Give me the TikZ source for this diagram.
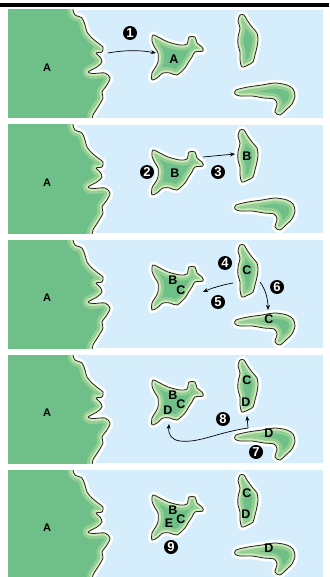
\documentclass[tikz,border=0pt]{standalone}
\usepackage{fontspec}
\setmainfont{Liberation Sans}
\usetikzlibrary{arrows.meta}

\definecolor{sea}{RGB}{214,238,251}
\definecolor{land}{RGB}{110,192,136}
\definecolor{shore}{RGB}{148,206,148}
\definecolor{beach}{RGB}{204,233,184}

% outlines, in px with y running down
\newcommand{\mainland}{(-2,-10) -- (73,-10) -- plot[smooth, tension=.5] coordinates {(73,-4) (73,0) (75,5) (82,8) (85,15) (87,22) (92,28) (98,33) (103,37) (102,42) (96,43) (100,47) (102,52) (97,57) (88,62) (93,63.5) (105,63) (110,68) (107,75) (102,82) (103,88) (98,97) (93,105) (92,112) (92,120)} -- (-2,120) -- cycle}
\newcommand{\isleone}{plot[smooth cycle, tension=.5] coordinates {(153,25) (160,28) (168,32) (180,35) (187,34) (189,27) (195,27) (197,33) (202,37) (203,41) (195,42) (192,47) (188,53) (185,58) (177,65) (170,63) (163,63) (157,68) (152,70) (152,63) (155,58) (158,52) (158,43) (155,38) (152,31)}}
\newcommand{\isletwo}{plot[smooth cycle, tension=.5] coordinates {(240,5) (244,5) (247,10) (252,17) (257,23) (258,30) (257,37) (255,45) (253,52) (248,55) (242,57) (240,50) (240,42) (238,35) (238,27) (240,18) (238,11)}}
\newcommand{\islethree}{plot[smooth cycle, tension=.5] coordinates {(236,80) (248,77) (262,75) (275,73) (287,75) (293,79) (295,86) (292,94) (287,99) (280,105) (275,102) (277,94) (274,89) (264,88) (252,86) (240,86) (235,84)}}

\newcommand{\landmass}[1]{%
  \draw[halo] #1;
  \fill[land] #1;
  \begin{scope}
    \clip #1;
    \draw[shore, line width=11pt, line join=round] #1;
    \draw[beach, line width=5pt, line join=round] #1;
  \end{scope}
  \draw[coastline] #1;}

\begin{document}
\begin{tikzpicture}[x=1pt, y=-1pt,
    halo/.style={draw=white, line width=6.5pt, line join=round},
    coastline/.style={draw=black!85, line width=.8pt, line join=round},
    badge/.style={circle, fill=black, text=white, inner sep=0pt, minimum size=14pt,
      font=\bfseries\fontsize{13}{13}\selectfont},
    isle/.style={inner sep=0pt, font=\bfseries\fontsize{12.5}{12.5}\selectfont},
    landlabel/.style={inner sep=0pt, font=\bfseries\fontsize{11}{11}\selectfont},
    link/.style={-{Stealth[length=5pt, width=4pt]}, line width=.7pt}]
  \useasboundingbox (0,0) rectangle (329,577);
  \fill[white] (0,0) rectangle (329,577);
  \fill (0,3.3) rectangle (329,6.6);

  % the same map five times
  \foreach \top [count=\i] in {10,125,240,355,470}{
    \begin{scope}[shift={(0,\top)}]
      \fill[sea] (8,0) rectangle (323,108);
      \begin{scope}
        \clip (8,0) rectangle (323,108);
        \landmass{\mainland}
        \landmass{\isleone}
        \landmass{\isletwo}
        \landmass{\islethree}
      \end{scope}
      \node[landlabel] (main\i) at (47,58) {A};
    \end{scope}
  }

  % step 1
  \begin{scope}[shift={(0,10)}]
    \node[badge] (n1) at (130,23) {1};
    \node[isle] (a1) at (174,49) {A};
    \coordinate (s1) at (108,43);
    \coordinate (e1) at (156,43);
    \draw[link] (s1) .. controls (125,40) and (140,40) .. (e1);
  \end{scope}

  % steps 2 and 3
  \begin{scope}[shift={(0,125)}]
    \node[isle] (b1) at (175,48) {B};
    \node[isle] (b2) at (247,31) {B};
    \node[badge] (n2) at (147,47) {2};
    \node[badge] (n3) at (218,47) {3};
    \coordinate (s3) at (203,32);
    \coordinate (e3) at (235,29);
    \draw[link] (s3) -- (e3);
  \end{scope}

  % steps 4 to 6
  \begin{scope}[shift={(0,240)}]
    \node[isle] (b3) at (173,40) {B};
    \node[isle] (c1) at (181,50) {C};
    \node[isle] (c2) at (247,30) {C};
    \node[isle] (c3) at (269,79) {C};
    \node[badge] (n4) at (225,23) {4};
    \node[badge] (n5) at (218,62) {5};
    \node[badge] (n6) at (277,47) {6};
    \coordinate (s5) at (233,43);
    \coordinate (e5) at (203,52);
    \coordinate (s6) at (260,42);
    \coordinate (e6) at (268,70);
    \draw[link] (s5) .. controls (222,45) and (212,48) .. (e5);
    \draw[link] (s6) .. controls (266,50) and (268,60) .. (e6);
  \end{scope}

  % steps 7 and 8
  \begin{scope}[shift={(0,355)}]
    \node[isle] (b4) at (173,40) {B};
    \node[isle] (c4) at (181,49) {C};
    \node[isle] (d1) at (168,55) {D};
    \node[isle] (c5) at (247,25) {C};
    \node[isle] (d2) at (246,47) {D};
    \node[isle] (d3) at (269,78) {D};
    \node[badge] (n8) at (223,64) {8};
    \node[badge] (n7) at (256,97) {7};
    \coordinate (s7) at (248,73);
    \coordinate (e8) at (247,61);
    \coordinate (e7) at (169,69);
    \draw[link] (s7) -- (e8);
    \draw[link] (s7) .. controls (215,78) and (200,88) .. (180,86)
      .. controls (172,85) and (168,80) .. (e7);
  \end{scope}

  % step 9
  \begin{scope}[shift={(0,470)}]
    \node[isle] (b5) at (173,40) {B};
    \node[isle] (c6) at (181,49) {C};
    \node[isle] (e9) at (169,53) {E};
    \node[isle] (c7) at (247,23) {C};
    \node[isle] (d4) at (246,44) {D};
    \node[isle] (d5) at (269,78) {D};
    \node[badge] (n9) at (171,77) {9};
  \end{scope}
\end{tikzpicture}
\end{document}
